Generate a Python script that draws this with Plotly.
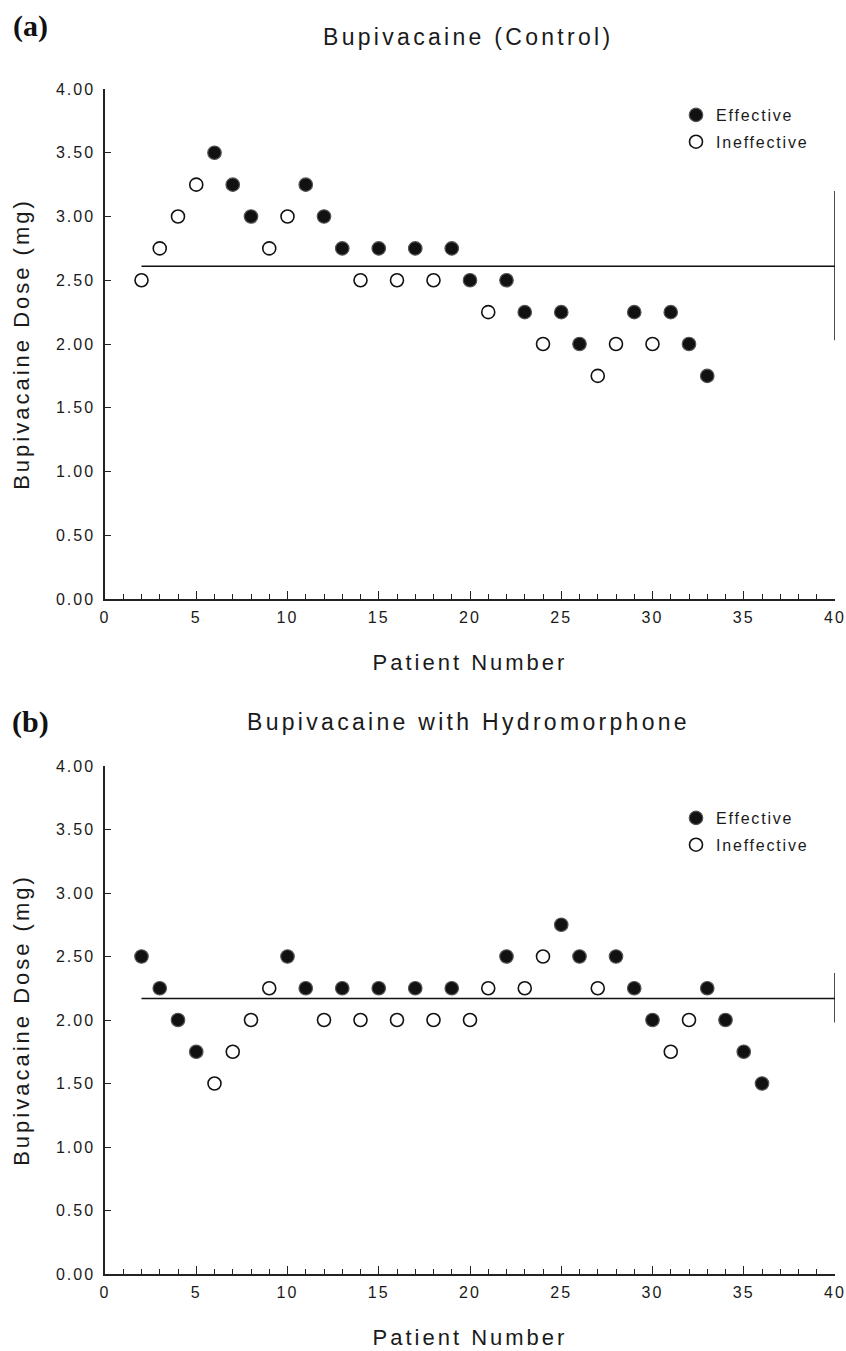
import plotly.graph_objects as go

# ---- data: panel (a) Bupivacaine (Control)
patients_a = list(range(2, 34))
dose_a = [2.50, 2.75, 3.00, 3.25, 3.50, 3.25, 3.00, 2.75, 3.00, 3.25, 3.00, 2.75,
          2.50, 2.75, 2.50, 2.75, 2.50, 2.75, 2.50, 2.25, 2.50, 2.25, 2.00, 2.25,
          2.00, 1.75, 2.00, 2.25, 2.00, 2.25, 2.00, 1.75]
effective_a = ["O", "O", "O", "O", "E", "E", "E", "O", "O", "E", "E", "E",
               "O", "E", "O", "E", "O", "E", "E", "O", "E", "E", "O", "E",
               "E", "O", "O", "E", "O", "E", "E", "E"]
mean_a = 2.61
ci_a = [2.03, 3.20]

# ---- data: panel (b) Bupivacaine with Hydromorphone
patients_b = list(range(2, 37))
dose_b = [2.50, 2.25, 2.00, 1.75, 1.50, 1.75, 2.00, 2.25, 2.50, 2.25, 2.00, 2.25,
          2.00, 2.25, 2.00, 2.25, 2.00, 2.25, 2.00, 2.25, 2.50, 2.25, 2.50, 2.75,
          2.50, 2.25, 2.50, 2.25, 2.00, 1.75, 2.00, 2.25, 2.00, 1.75, 1.50]
effective_b = ["E", "E", "E", "E", "O", "O", "O", "O", "E", "E", "O", "E",
               "O", "E", "O", "E", "O", "E", "O", "O", "E", "O", "O", "E",
               "E", "O", "E", "E", "E", "O", "O", "E", "E", "E", "E"]
mean_b = 2.17
ci_b = [1.98, 2.37]

x_ticks = [0, 5, 10, 15, 20, 25, 30, 35, 40]
y_ticks = [0.0, 0.5, 1.0, 1.5, 2.0, 2.5, 3.0, 3.5, 4.0]


def sp(text, ls):
    return '<span style="letter-spacing:%spx">%s</span>' % (ls, text)


x_tick_text = [sp(str(v), 2) for v in x_ticks]
y_tick_text = [sp("%.2f" % v, 2) for v in y_ticks]

W, H = 846, 1351
FONT = "Liberation Sans, Arial, sans-serif"
SERIF = "Liberation Serif, Times New Roman, serif"
INK = "#1a1a1a"

fig = go.Figure()


def add_panel(fig, pats, doses, eff, mean, ci, xa, ya, legend):
    pe = [p for p, e in zip(pats, eff) if e == "E"]
    de = [d for d, e in zip(doses, eff) if e == "E"]
    po = [p for p, e in zip(pats, eff) if e == "O"]
    do = [d for d, e in zip(doses, eff) if e == "O"]
    fig.add_trace(go.Scatter(x=[pats[0], 40], y=[mean, mean], mode="lines",
                             line=dict(color="#111111", width=1.5),
                             xaxis=xa, yaxis=ya, showlegend=False,
                             cliponaxis=False, hoverinfo="skip"))
    fig.add_trace(go.Scatter(x=[40, 40], y=ci, mode="lines",
                             line=dict(color="#111111", width=1.5),
                             xaxis=xa, yaxis=ya, showlegend=False,
                             cliponaxis=False, hoverinfo="skip"))
    fig.add_trace(go.Scatter(x=pe, y=de, mode="markers", name=sp("Effective", 1.8),
                             marker=dict(size=13.5, color="#111111",
                                         line=dict(color="#555555", width=1.2)),
                             xaxis=xa, yaxis=ya, legend=legend, legendgroup="e" + xa,
                             cliponaxis=False))
    fig.add_trace(go.Scatter(x=po, y=do, mode="markers", name=sp("Ineffective", 1.8),
                             marker=dict(size=13, color="white",
                                         line=dict(color="#111111", width=1.6)),
                             xaxis=xa, yaxis=ya, legend=legend, legendgroup="o" + xa,
                             cliponaxis=False))


add_panel(fig, patients_a, dose_a, effective_a, mean_a, ci_a, "x", "y", "legend")
add_panel(fig, patients_b, dose_b, effective_b, mean_b, ci_b, "x2", "y2", "legend2")

plot_w = W - 105 - 11


def px_to_paper_x(px):
    return (px - 105) / plot_w


def px_to_paper_y(py):
    return 1 - py / H


xaxis_common = dict(
    range=[0, 40], tickmode="array", tickvals=x_ticks, ticktext=x_tick_text,
    ticks="inside", ticklen=8, tickwidth=1.3, tickcolor="#222222",
    minor=dict(dtick=1, ticks="inside", ticklen=5, tickwidth=1.3, tickcolor="#222222"),
    showline=True, linecolor="#222222", linewidth=1.5, showgrid=False,
    zeroline=False, tickfont=dict(family=FONT, size=16, color=INK),
    ticklabelstandoff=3,
    title=dict(text=sp("Patient Number", 3), font=dict(family=FONT, size=22, color=INK),
               standoff=30),
)
yaxis_common = dict(
    range=[0, 4], tickmode="array", tickvals=y_ticks, ticktext=y_tick_text,
    ticks="inside", ticklen=6, tickwidth=1.3, tickcolor="#222222",
    showline=True, linecolor="#222222", linewidth=1.5, showgrid=False,
    zeroline=False, tickfont=dict(family=FONT, size=16, color=INK),
    ticklabelstandoff=5,
    title=dict(text=sp("Bupivacaine Dose (mg)", 3), font=dict(family=FONT, size=22, color=INK),
               standoff=20),
)

legend_common = dict(xanchor="left", yanchor="top",
                     font=dict(family=FONT, size=16, color=INK),
                     bgcolor="rgba(0,0,0,0)", tracegroupgap=3, itemwidth=30,
                     traceorder="grouped")

fig.update_layout(
    width=W, height=H,
    margin=dict(l=105, r=11, t=0, b=0, autoexpand=False),
    paper_bgcolor="white", plot_bgcolor="white",
    xaxis=dict(xaxis_common, domain=[0, 1], anchor="y"),
    yaxis=dict(yaxis_common, domain=[px_to_paper_y(599), px_to_paper_y(89)], anchor="x"),
    xaxis2=dict(xaxis_common, domain=[0, 1], anchor="y2"),
    yaxis2=dict(yaxis_common, domain=[px_to_paper_y(1274), px_to_paper_y(766)], anchor="x2"),
    legend=dict(legend_common, x=px_to_paper_x(676), y=px_to_paper_y(98)),
    legend2=dict(legend_common, x=px_to_paper_x(676), y=px_to_paper_y(801)),
    annotations=[
        dict(text="<b>(a)</b>", x=px_to_paper_x(30), y=px_to_paper_y(26),
             xref="paper", yref="paper", xanchor="center", yanchor="middle",
             showarrow=False, font=dict(family=SERIF, size=30, color="#111111")),
        dict(text=sp("Bupivacaine (Control)", 3.3), x=px_to_paper_x(468), y=px_to_paper_y(37),
             xref="paper", yref="paper", xanchor="center", yanchor="middle",
             showarrow=False, font=dict(family=FONT, size=23, color=INK)),
        dict(text="<b>(b)</b>", x=px_to_paper_x(30), y=px_to_paper_y(722),
             xref="paper", yref="paper", xanchor="center", yanchor="middle",
             showarrow=False, font=dict(family=SERIF, size=30, color="#111111")),
        dict(text=sp("Bupivacaine with Hydromorphone", 3.3), x=px_to_paper_x(468), y=px_to_paper_y(722),
             xref="paper", yref="paper", xanchor="center", yanchor="middle",
             showarrow=False, font=dict(family=FONT, size=23, color=INK)),
    ],
)

fig.write_html("out.html")
